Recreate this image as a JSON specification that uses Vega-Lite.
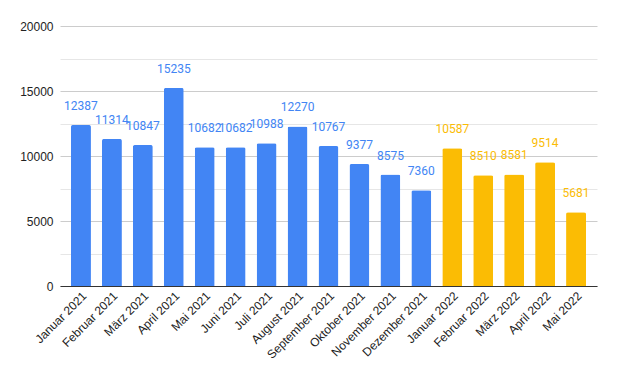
{
  "$schema": "https://vega.github.io/schema/vega-lite/v6.json",
  "width": 537,
  "height": 260,
  "autosize": "none",
  "padding": {"left": 60, "top": 26, "right": 20, "bottom": 96},
  "background": "white",
  "config": {"view": {"stroke": null}},
  "data": {"values": [
    {"month": "Januar 2021", "year": "2021", "value": 12387},
    {"month": "Februar 2021", "year": "2021", "value": 11314},
    {"month": "März 2021", "year": "2021", "value": 10847},
    {"month": "April 2021", "year": "2021", "value": 15235},
    {"month": "Mai 2021", "year": "2021", "value": 10682},
    {"month": "Juni 2021", "year": "2021", "value": 10682},
    {"month": "Juli 2021", "year": "2021", "value": 10988},
    {"month": "August 2021", "year": "2021", "value": 12270},
    {"month": "September 2021", "year": "2021", "value": 10767},
    {"month": "Oktober 2021", "year": "2021", "value": 9377},
    {"month": "November 2021", "year": "2021", "value": 8575},
    {"month": "Dezember 2021", "year": "2021", "value": 7360},
    {"month": "Januar 2022", "year": "2022", "value": 10587},
    {"month": "Februar 2022", "year": "2022", "value": 8510},
    {"month": "März 2022", "year": "2022", "value": 8581},
    {"month": "April 2022", "year": "2022", "value": 9514},
    {"month": "Mai 2022", "year": "2022", "value": 5681}
  ]},
  "encoding": {
    "x": {
      "field": "month", "type": "nominal", "sort": null,
      "scale": {"paddingInner": 0.355, "paddingOuter": 0.355},
      "axis": {
        "title": null, "labelAngle": -45, "labelAlign": "right", "labelBaseline": "top",
        "labelFont": "Liberation Sans", "labelFontSize": 12, "labelColor": "#222222",
        "ticks": false, "domainColor": "#333333", "domainWidth": 1, "labelPadding": 4, "labelOverlap": false
      }
    },
    "y": {
      "field": "value", "type": "quantitative",
      "scale": {"domain": [0, 20000], "nice": false},
      "axis": {
        "title": null, "values": [0, 2500, 5000, 7500, 10000, 12500, 15000, 17500, 20000],
        "labelExpr": "datum.value % 5000 === 0 ? datum.label : ''",
        "format": "d",
        "gridColor": {"condition": {"test": "datum.value % 5000 === 0", "value": "#cccccc"}, "value": "#e6e6e6"},
        "domain": false, "ticks": false, "labelPadding": 7,
        "labelFont": "Liberation Sans", "labelFontSize": 12, "labelColor": "#222222"
      }
    },
    "color": {
      "field": "year", "type": "nominal",
      "scale": {"domain": ["2021", "2022"], "range": ["#4285F4", "#FBBC04"]},
      "legend": null
    }
  },
  "layer": [
    {"mark": {"type": "bar", "cornerRadiusTopLeft": 2, "cornerRadiusTopRight": 2}},
    {"mark": {"type": "text", "baseline": "alphabetic", "dy": -15, "font": "Roboto", "fontSize": 12},
     "encoding": {"text": {"field": "value", "type": "quantitative", "format": "d"}}}
  ]
}
